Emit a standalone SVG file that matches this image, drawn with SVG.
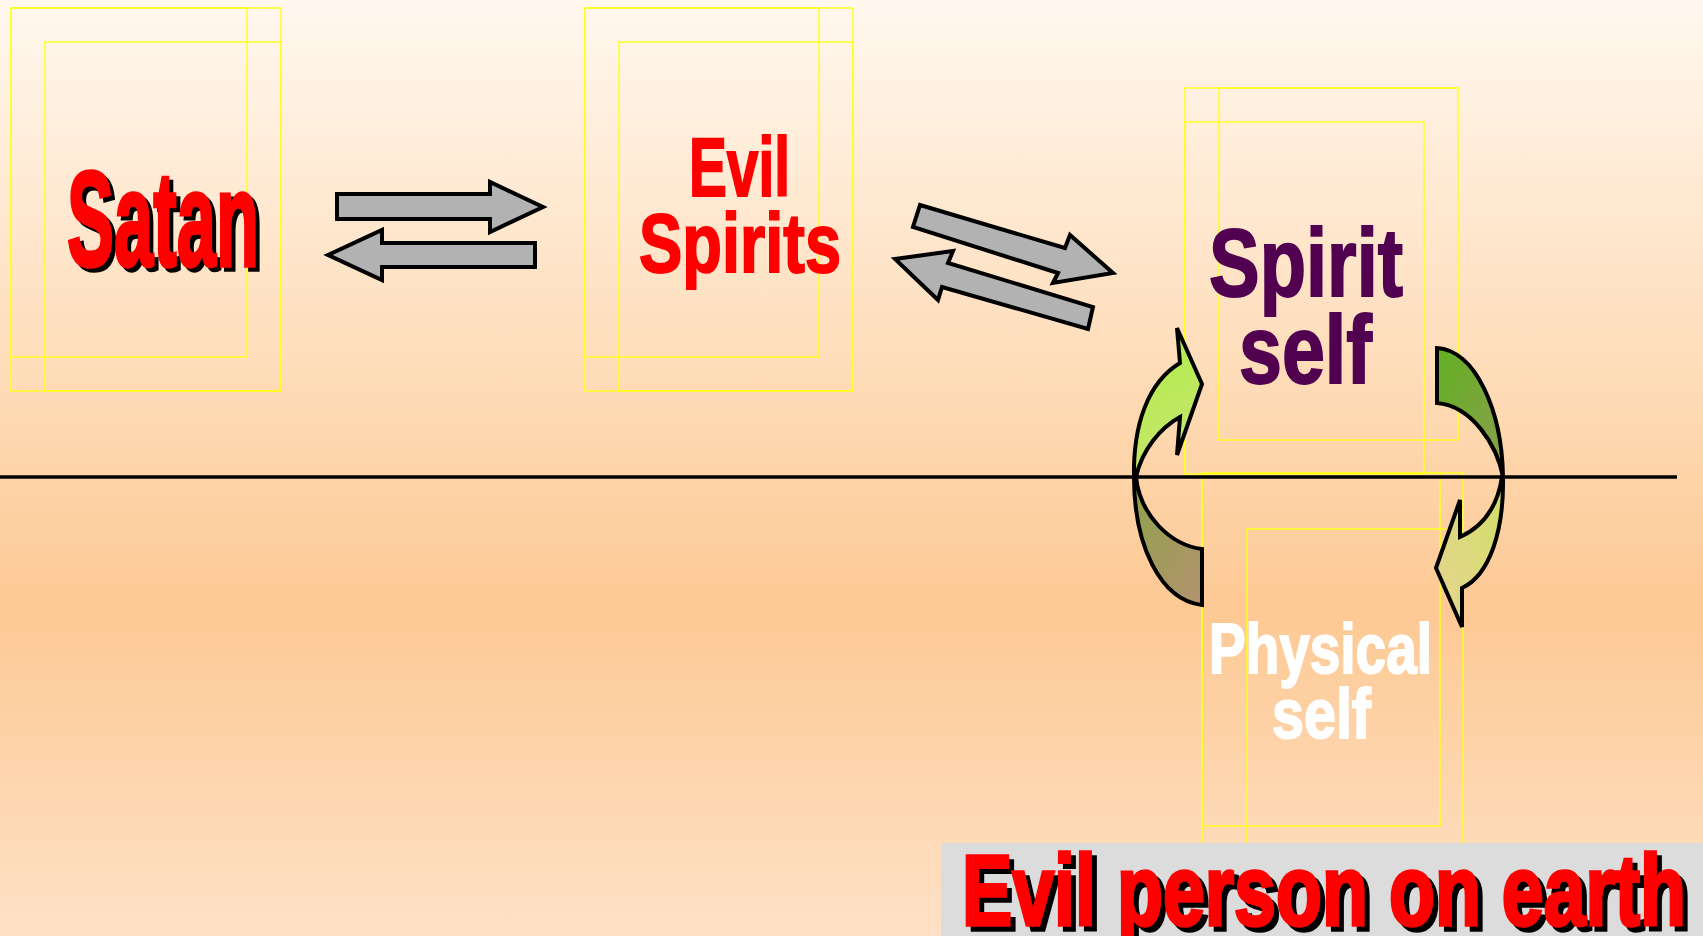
<svg xmlns="http://www.w3.org/2000/svg" width="1703" height="936" viewBox="0 0 1703 936">
<defs>
<linearGradient id="bg" x1="0" y1="0" x2="0" y2="1">
<stop offset="0" stop-color="#fff8ef"/>
<stop offset="0.4" stop-color="#fedcb8"/>
<stop offset="0.65" stop-color="#fdc994"/>
<stop offset="1" stop-color="#fee1c6"/>
</linearGradient>
<linearGradient id="gLU" x1="0" y1="0" x2="0.3" y2="1">
<stop offset="0" stop-color="#acf048"/>
<stop offset="1" stop-color="#c8e46c"/>
</linearGradient>
<linearGradient id="gLL" x1="0" y1="0" x2="1" y2="1">
<stop offset="0" stop-color="#8ea24a"/>
<stop offset="1" stop-color="#b4926f"/>
</linearGradient>
<linearGradient id="gRU" x1="0" y1="0" x2="1" y2="1">
<stop offset="0" stop-color="#62b022"/>
<stop offset="1" stop-color="#8c9e4e"/>
</linearGradient>
<linearGradient id="gRL" x1="1" y1="0" x2="0" y2="1">
<stop offset="0" stop-color="#d0de68"/>
<stop offset="1" stop-color="#e8d492"/>
</linearGradient>
</defs>
<style>
.frame{fill:none;stroke:#ffff22;stroke-width:1.5}
.txt{font-family:"Liberation Sans Narrow","Liberation Sans",Arial,sans-serif;font-weight:bold}
.red{fill:#ff0000;stroke:#ff0000}
.shadow{fill:#000;stroke:#000}
.purple{fill:#520050;stroke:#520050}
.white{fill:#ffffff;stroke:#ffffff}
.block{fill:#b2b2b2;stroke:#000;stroke-width:4;stroke-linejoin:miter}
.curve{stroke:#000;stroke-width:4;stroke-linejoin:miter}
</style>
<rect id="background" x="0" y="0" width="1703" height="936" fill="url(#bg)"/>

<g id="node-satan">
<rect class="frame" x="11" y="8" width="270" height="383"/>
<rect class="frame" x="11" y="8" width="236" height="349"/>
<rect class="frame" x="45" y="42" width="236" height="349"/>
<text class="txt shadow" x="71" y="270" font-size="136" stroke-width="3.5" textLength="192" lengthAdjust="spacingAndGlyphs">Satan</text>
<text class="txt red" x="67" y="266" font-size="136" stroke-width="3.5" textLength="192" lengthAdjust="spacingAndGlyphs">Satan</text>
</g>

<g id="node-evil-spirits">
<rect class="frame" x="585" y="8" width="268" height="383"/>
<rect class="frame" x="585" y="8" width="234" height="349"/>
<rect class="frame" x="619" y="42" width="234" height="349"/>
<text class="txt red" x="689" y="196" font-size="84" stroke-width="2" textLength="101" lengthAdjust="spacingAndGlyphs">Evil</text>
<text class="txt red" x="639" y="272" font-size="84" stroke-width="2" textLength="202" lengthAdjust="spacingAndGlyphs">Spirits</text>
</g>

<g id="node-spirit-self">
<polyline class="frame" points="1185,474 1185,88 1458,88"/>
<rect class="frame" x="1219" y="88" width="239" height="352"/>
<rect class="frame" x="1185" y="122" width="239" height="352"/>
<text class="txt purple" x="1209" y="296" font-size="97" stroke-width="2" textLength="194" lengthAdjust="spacingAndGlyphs">Spirit</text>
<text class="txt purple" x="1239" y="383" font-size="97" stroke-width="2" textLength="133" lengthAdjust="spacingAndGlyphs">self</text>
</g>

<g id="node-physical-self">
<polyline class="frame" points="1202,843 1202,473 1463,473 1463,843"/>
<rect class="frame" x="1202" y="473" width="238" height="353"/>
<polyline class="frame" points="1247,843 1247,529 1463,529"/>
<text class="txt white" x="1209" y="673" font-size="71" stroke-width="2" textLength="223" lengthAdjust="spacingAndGlyphs">Physical</text>
<text class="txt white" x="1272" y="738" font-size="71" stroke-width="2" textLength="99" lengthAdjust="spacingAndGlyphs">self</text>
</g>

<g id="connectors">
<line x1="0" y1="477" x2="1677" y2="477" stroke="#000" stroke-width="3.5"/>
<polygon class="block" points="337,194 490,194 490,182 543,207 490,232 490,219 337,219"/>
<polygon class="block" points="535,243 382,243 382,230 328,255 382,280 382,267 535,267"/>
<polygon class="block" points="920,205 1065,248 1070,235 1113,273 1053,283 1058,273 913,227"/>
<polygon class="block" points="895,259 953,251 948,263 1093,307 1088,329 942,287 938,300"/>
<path class="curve" fill="url(#gLU)" d="M1134,477 C1133,425 1148,382 1180,363 L1177,328 L1202,384 L1177,455 L1180,417 C1160,428 1142,450 1136,477 Z"/>
<path class="curve" fill="url(#gLL)" d="M1134,477 C1134,545 1160,600 1202,605 L1202,549 C1170,545 1140,515 1136,477 Z"/>
<path class="curve" fill="url(#gRU)" d="M1437,348 C1475,350 1502,410 1503,477 C1497,445 1472,406 1437,403 Z"/>
<path class="curve" fill="url(#gRL)" d="M1503,477 C1504,530 1490,575 1462,588 L1462,627 L1436,568 L1460,500 L1460,537 C1480,528 1497,510 1502,477 Z"/>
</g>

<g id="title">
<rect x="941" y="843" width="762" height="93" fill="#dcdcdc"/>
<text class="txt shadow" x="967" y="930" font-size="100" stroke-width="3.5" textLength="724" lengthAdjust="spacingAndGlyphs">Evil person on earth</text>
<text class="txt red" x="962" y="925" font-size="100" stroke-width="3.5" textLength="724" lengthAdjust="spacingAndGlyphs">Evil person on earth</text>
</g>
</svg>
